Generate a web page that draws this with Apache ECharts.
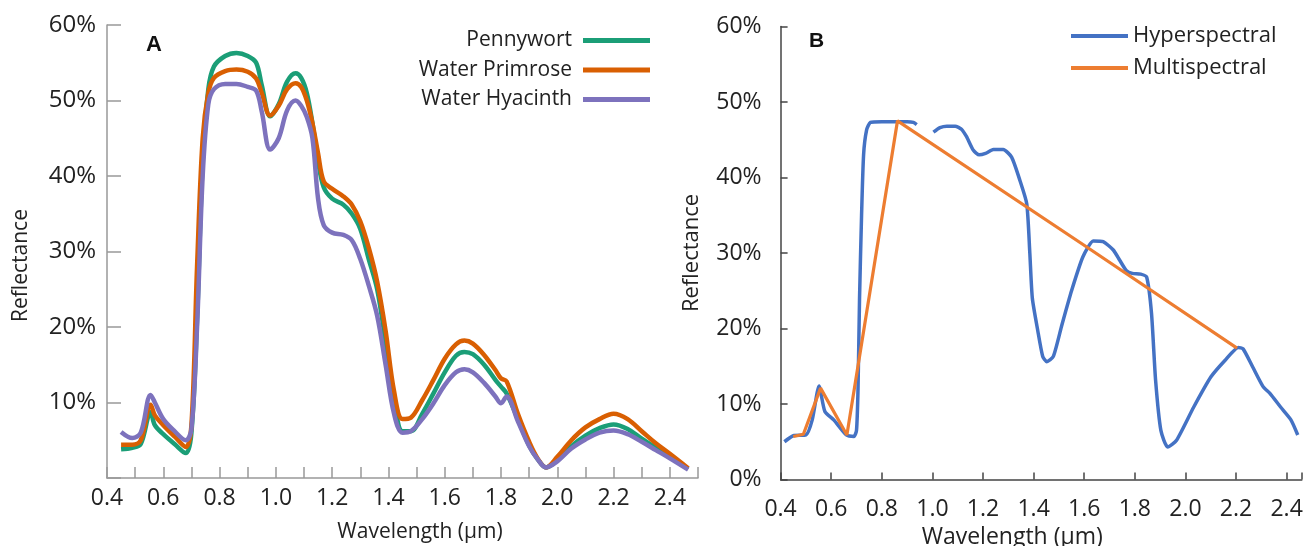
<!DOCTYPE html>
<html>
<head>
<meta charset="utf-8">
<script src="https://cdn.jsdelivr.net/npm/echarts@6/dist/echarts.min.js"></script>
<style>
  html, body { margin: 0; padding: 0; background: #fff; }
  #chart { width: 1304px; height: 546px; }
</style>
</head>
<body>
<div id="chart"></div>
<script>
// Panel A: reflectance of three plants (%)
var wavelengthA = [0.45, 0.49, 0.52, 0.555, 0.57, 0.60, 0.64, 0.68, 0.70, 0.72, 0.74, 0.76, 0.78, 0.82, 0.86, 0.90, 0.93, 0.95, 0.98,
  1.01, 1.04, 1.07, 1.09, 1.11, 1.13, 1.15, 1.17, 1.20, 1.24, 1.27, 1.30, 1.33, 1.36, 1.39, 1.42, 1.45, 1.48, 1.52, 1.56,
  1.60, 1.64, 1.67, 1.70, 1.74, 1.78, 1.80, 1.82, 1.86, 1.90, 1.93, 1.96, 2.00, 2.05, 2.10, 2.15, 2.20, 2.25, 2.30, 2.35, 2.40, 2.465];
var pennywort = [3.8, 4.0, 4.5, 8.7, 7.0, 5.8, 4.5, 3.3, 6.0, 21, 42, 51.5, 54.5, 55.9, 56.3, 55.9, 55.0, 52.0, 47.9,
  49.5, 52.5, 53.6, 53.0, 51.0, 47.0, 42.0, 38.5, 37.0, 36.2, 35.0, 33.0, 29.0, 25.0, 18.0, 10.5, 6.2, 6.2, 8.5, 11.2,
  14.0, 16.2, 16.7, 16.4, 15.0, 13.0, 12.1, 11.2, 7.8, 4.3, 2.5, 1.4, 2.4, 4.2, 5.6, 6.6, 7.1, 6.5, 5.2, 4.0, 2.8, 1.2];
var waterPrimrose = [4.4, 4.4, 5.0, 9.7, 8.3, 7.0, 5.5, 4.1, 7.0, 28, 45, 51.0, 53.0, 53.9, 54.1, 53.8, 52.9, 51.0, 48.0,
  49.3, 51.5, 52.3, 51.8, 50.0, 47.0, 43.0, 39.3, 38.3, 37.3, 36.2, 34.0, 30.5, 26.0, 19.5, 11.5, 7.8, 8.0, 10.3, 13.0,
  15.8, 17.7, 18.2, 17.8, 16.3, 14.3, 13.2, 12.8, 8.5, 4.8, 2.6, 1.4, 2.8, 5.0, 6.7, 7.8, 8.5, 7.8, 6.2, 4.6, 3.2, 1.3];
var waterHyacinth = [6.1, 5.3, 6.0, 11.0, 10.0, 7.8, 6.2, 5.0, 6.5, 20, 40, 49.5, 51.5, 52.2, 52.2, 51.8, 51.3, 48.5, 43.5,
  45.0, 48.7, 50.0, 49.3, 47.8, 45.0, 37.0, 33.5, 32.5, 32.2, 31.5, 29.0, 25.5, 21.5, 15.0, 8.5, 6.0, 6.2, 7.8, 9.9,
  12.3, 14.0, 14.4, 14.0, 12.6, 10.8, 9.9, 10.8, 7.5, 4.2, 2.5, 1.4, 2.2, 3.9, 5.1, 6.0, 6.3, 5.8, 4.8, 3.7, 2.6, 1.1];

// Panel B: hyperspectral curve (null = gap) and multispectral bands (%)
var wavelengthB = [0.415, 0.45, 0.50, 0.525, 0.552, 0.575, 0.61, 0.66, 0.69, 0.700, 0.706, 0.712, 0.72, 0.728, 0.74, 0.755,
  0.80, 0.85, 0.90, 0.925, 0.938, 0.97, 1.004, 1.03, 1.057, 1.09, 1.115, 1.135, 1.162, 1.185, 1.21, 1.241, 1.28, 1.313,
  1.346, 1.373, 1.385, 1.395, 1.416, 1.436, 1.452, 1.478, 1.512, 1.55, 1.595, 1.636, 1.675, 1.715, 1.741, 1.766, 1.79,
  1.823, 1.847, 1.866, 1.882, 1.903, 1.93, 1.965, 2.033, 2.101, 2.157, 2.209, 2.228, 2.266, 2.307, 2.334, 2.376, 2.417, 2.444];
var hyperspectral = [5.0, 5.8, 5.9, 7.9, 12.4, 9.0, 7.9, 5.9, 5.7, 6.5, 12, 24, 35, 43, 46.3, 47.3,
  47.4, 47.4, 47.4, 47.3, 47.0, null, 46.0, 46.6, 46.8, 46.8, 46.4, 45.4, 43.6, 43.0, 43.2, 43.7, 43.7, 42.7,
  39.6, 36.5, 30.0, 24.0, 19.8, 16.3, 15.6, 16.3, 20.5, 25.0, 29.5, 31.6, 31.5, 30.4, 29.0, 27.7, 27.3,
  27.2, 26.8, 22.0, 13.2, 6.5, 4.3, 5.2, 9.6, 13.6, 15.8, 17.5, 17.3, 14.9, 12.3, 11.4, 9.6, 7.9, 5.9];
var bandCenters = [0.45, 0.49, 0.558, 0.662, 0.862, 1.61, 2.204];
var multispectral = [5.7, 6.0, 12.1, 5.9, 47.5, 30.8, 17.4];

var fontA = 'Open Sans';
var fontB = 'Open Sans';

function pairs(xs, ys) {
  return xs.map(function (x, i) { return [x, ys[i] === null ? '-' : ys[i]]; });
}
function evenTenth(v) {
  var t = v * 10;
  return Math.abs(t - Math.round(t)) < 0.01 && Math.round(t) % 2 === 0;
}

var chart = echarts.init(document.getElementById('chart'));

var option = {
  animation: false,
  title: [
    { text: 'A', left: 146, top: 34, padding: 0,
      textStyle: { fontFamily: 'Liberation Sans', fontWeight: 'bold', fontSize: 22, color: '#111' } },
    { text: 'B', left: 809, top: 31, padding: 0,
      textStyle: { fontFamily: 'Liberation Sans', fontWeight: 'bold', fontSize: 21, color: '#111' } }
  ],
  legend: [
    { data: ['Pennywort'], right: 654, top: 30, align: 'right', icon: 'rect', itemWidth: 67, itemHeight: 5,
      selectedMode: false, padding: 0, textStyle: { fontFamily: fontA, fontSize: 21, color: '#222', padding: [0, 6, 0, 0] } },
    { data: ['Water Primrose'], right: 654, top: 59.5, align: 'right', icon: 'rect', itemWidth: 67, itemHeight: 5,
      selectedMode: false, padding: 0, textStyle: { fontFamily: fontA, fontSize: 21, color: '#222', padding: [0, 6, 0, 0] } },
    { data: ['Water Hyacinth'], right: 654, top: 89, align: 'right', icon: 'rect', itemWidth: 67, itemHeight: 5,
      selectedMode: false, padding: 0, textStyle: { fontFamily: fontA, fontSize: 21, color: '#222', padding: [0, 6, 0, 0] } },
    { data: ['Hyperspectral', 'Multispectral'], left: 1071, top: 25, orient: 'vertical', icon: 'rect',
      itemWidth: 57, itemHeight: 4, itemGap: 10, selectedMode: false, padding: 0,
      textStyle: { fontFamily: fontB, fontSize: 22, color: '#222' } }
  ],
  grid: [
    { left: 107, top: 25, width: 591, height: 453, outerBoundsMode: 'none' },
    { left: 780.6, top: 26.5, width: 521.2, height: 453, outerBoundsMode: 'none' }
  ],
  xAxis: [
    {
      gridIndex: 0, type: 'value', min: 0.4, max: 2.5, interval: 0.1,
      axisLine: { lineStyle: { color: '#999', width: 1.5 } },
      axisTick: { inside: true, length: 11, lineStyle: { color: '#999', width: 1.5 } },
      axisLabel: {
        margin: 9, fontFamily: fontA, fontSize: 23, color: '#222',
        formatter: function (v) { return evenTenth(v) && v < 2.45 ? v.toFixed(1) : ''; }
      },
      splitLine: { show: false },
      name: 'Wavelength (µm)', nameLocation: 'middle', nameGap: 44,
      nameTextStyle: { fontFamily: fontA, fontSize: 21, color: '#222', padding: [0, 0, 0, 35] }
    },
    {
      gridIndex: 1, type: 'value', min: 0.4, max: 2.46, interval: 0.2,
      axisLine: { lineStyle: { color: '#444', width: 1.5 } },
      axisTick: { inside: true, length: 7, lineStyle: { color: '#444', width: 1.5 } },
      axisLabel: {
        margin: 18, fontFamily: fontB, fontSize: 23, color: '#222',
        formatter: function (v) { return evenTenth(v) ? v.toFixed(1) : ''; }
      },
      splitLine: { show: false },
      name: 'Wavelength (µm)', nameLocation: 'middle', nameGap: 46,
      nameTextStyle: { fontFamily: fontB, fontSize: 23, color: '#222', padding: [0, 58, 0, 0] }
    }
  ],
  yAxis: [
    {
      gridIndex: 0, type: 'value', min: 0, max: 60, interval: 10,
      axisLine: { show: true, lineStyle: { color: '#999', width: 1.5 } },
      axisTick: { show: true, inside: true, length: 14, lineStyle: { color: '#999', width: 1.5 } },
      axisLabel: {
        margin: 11, fontFamily: fontA, fontSize: 24, color: '#222',
        formatter: function (v) { return v === 0 ? '' : v + '%'; }
      },
      splitLine: { show: false },
      name: 'Reflectance', nameLocation: 'middle', nameGap: 75,
      nameTextStyle: { fontFamily: fontA, fontSize: 21, color: '#222', padding: [0, 28, 0, 0] }
    },
    {
      gridIndex: 1, type: 'value', min: 0, max: 60, interval: 10,
      axisLine: { show: true, lineStyle: { color: '#444', width: 1.5 } },
      axisTick: { show: true, inside: true, length: 7, lineStyle: { color: '#444', width: 1.5 } },
      axisLabel: {
        margin: 19, fontFamily: fontB, fontSize: 23, color: '#222',
        formatter: function (v) { return v + '%'; }
      },
      splitLine: { show: false },
      name: 'Reflectance', nameLocation: 'middle', nameGap: 78,
      nameTextStyle: { fontFamily: fontB, fontSize: 22, color: '#222' }
    }
  ],
  series: [
    { name: 'Pennywort', type: 'line', xAxisIndex: 0, yAxisIndex: 0, data: pairs(wavelengthA, pennywort),
      smooth: 0.35, showSymbol: false, color: '#1b9e77', lineStyle: { width: 4.5 } },
    { name: 'Water Primrose', type: 'line', xAxisIndex: 0, yAxisIndex: 0, data: pairs(wavelengthA, waterPrimrose),
      smooth: 0.35, showSymbol: false, color: '#d95f02', lineStyle: { width: 4.5 } },
    { name: 'Water Hyacinth', type: 'line', xAxisIndex: 0, yAxisIndex: 0, data: pairs(wavelengthA, waterHyacinth),
      smooth: 0.35, showSymbol: false, color: '#7d72bd', lineStyle: { width: 4.5 } },
    { name: 'Hyperspectral', type: 'line', xAxisIndex: 1, yAxisIndex: 1, data: pairs(wavelengthB, hyperspectral),
      smooth: 0.2, showSymbol: false, connectNulls: false, color: '#4472c4', lineStyle: { width: 3.5 } },
    { name: 'Multispectral', type: 'line', xAxisIndex: 1, yAxisIndex: 1, data: pairs(bandCenters, multispectral),
      showSymbol: false, color: '#ed7d31', lineStyle: { width: 3.2 } }
  ]
};

chart.setOption(option);
</script>
</body>
</html>
